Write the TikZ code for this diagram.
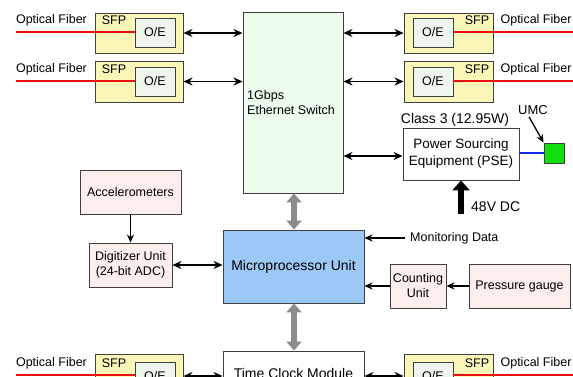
\documentclass[tikz,border=0pt]{standalone}
\usepackage{fontspec}
\setmainfont{Liberation Sans}
\usetikzlibrary{arrows.meta}
\definecolor{sfpfill}{HTML}{FAF6B8}
\definecolor{oefill}{HTML}{EEF5EC}
\definecolor{swfill}{HTML}{EEFCEE}
\definecolor{mpufill}{HTML}{9CC8F6}
\definecolor{pinkfill}{HTML}{FCEEEC}
\definecolor{boxline}{HTML}{404040}
\definecolor{fiber}{HTML}{EE1111}
\definecolor{greyarrow}{HTML}{8C8C8C}
\definecolor{umcgreen}{HTML}{11DD11}
\tikzset{
  box/.style={draw=boxline, line width=0.9pt, rectangle, inner sep=0pt, align=center},
  sfpbox/.style={box, fill=sfpfill},
  oebox/.style={box, fill=oefill, minimum width=40pt, minimum height=29pt, font=\fontsize{12.5}{14}\selectfont},
  txt/.style={inner sep=0pt, font=\fontsize{12.5}{14}\selectfont},
  bigtxt/.style={inner sep=0pt, font=\fontsize{14}{16}\selectfont},
  barrow/.style={line width=1.6pt, {Stealth[length=9pt,width=8pt]}-{Stealth[length=9pt,width=8pt]}},
  sarrow/.style={line width=1.3pt, -{Stealth[length=8pt,width=7pt]}},
  garrow/.style={line width=6pt, draw=greyarrow, {Triangle[length=9pt,width=15pt]}-{Triangle[length=9pt,width=15pt]}},
  fiberline/.style={draw=fiber, line width=2pt},
}
\begin{document}
\begin{tikzpicture}[x=1pt,y=-1pt]
\useasboundingbox (0,0) rectangle (573,377);
\begin{scope}
\clip (0,0) rectangle (573,377);
% Switch
\node[box, fill=swfill, minimum width=100pt, minimum height=181pt] (sw) at (293,102.5) {};
\node[txt, anchor=west, align=left] (swtxt) at (247,103) {1Gbps\\[1pt]Ethernet Switch};
% Left SFPs
\node[sfpbox, minimum width=88pt, minimum height=40pt] (sfpL1) at (139,33) {};
\node[oebox] (oeL1) at (155,32.5) {O/E};
\node[txt] (sfptL1) at (114,20.5) {SFP};
\node[txt] (ofL1) at (51.5,20.5) {Optical Fiber};
\coordinate (fL1) at (16,32.5);
\draw[fiberline] (fL1) -- (oeL1.west);
\node[sfpbox, minimum width=88pt, minimum height=41pt] (sfpL2) at (139,81.5) {};
\node[oebox] (oeL2) at (155,81.5) {O/E};
\node[txt] (sfptL2) at (114,69.5) {SFP};
\node[txt] (ofL2) at (51.5,69.5) {Optical Fiber};
\coordinate (fL2) at (16,81.5);
\draw[fiberline] (fL2) -- (oeL2.west);
% Right SFPs
\node[sfpbox, minimum width=89pt, minimum height=40pt] (sfpR1) at (448.5,33) {};
\node[oebox] (oeR1) at (433,32.5) {O/E};
\node[txt] (sfptR1) at (477,20.5) {SFP};
\node[txt] (ofR1) at (536,20.5) {Optical Fiber};
\coordinate (fR1) at (573,32.5);
\draw[fiberline] (oeR1.east) -- (fR1);
\node[sfpbox, minimum width=89pt, minimum height=41pt] (sfpR2) at (448.5,81.5) {};
\node[oebox] (oeR2) at (433,81.5) {O/E};
\node[txt] (sfptR2) at (477,69.5) {SFP};
\node[txt] (ofR2) at (536,69.5) {Optical Fiber};
\coordinate (fR2) at (573,81.5);
\draw[fiberline] (oeR2.east) -- (fR2);
% arrows SFP <-> switch
\draw[barrow] (sfpL1.east) -- (sw.west |- sfpL1.east);
\draw[barrow] (sfpL2.east) -- (sw.west |- sfpL2.east);
\draw[barrow] (sw.east |- sfpR1.west) -- (sfpR1.west);
\draw[barrow] (sw.east |- sfpR2.west) -- (sfpR2.west);
% PSE
\node[box, fill=white, minimum width=116pt, minimum height=52pt, font=\fontsize{13.5}{17}\selectfont] (pse) at (461,154) {Power Sourcing\\Equipment (PSE)};
\node[bigtxt] (cls) at (455,120) {Class 3 (12.95W)};
\node[box, fill=umcgreen, minimum width=20pt, minimum height=20pt] (umc) at (554,153) {};
\draw[draw={rgb,255:red,20;green,40;blue,230}, line width=1.2pt] (pse.east |- umc.west) -- (umc.west);
\node[txt, font=\fontsize{13}{15}\selectfont] (umct) at (533,110) {UMC};
\draw[sarrow] (umct.south) ++(-4,2) coordinate (umcs) -- (umc.north west);
\draw[barrow] (sw.east |- 0,156) coordinate (swp) -- (pse.west |- swp);
% 48V DC
\coordinate (dcs) at (461,214);
\draw[line width=6pt, -{Triangle[length=10pt,width=17pt]}] (dcs) -- (pse.south);
\node[bigtxt, anchor=west] (dct) at (471,207) {48V DC};
% MPU
\node[box, fill=mpufill, minimum width=141pt, minimum height=73pt, font=\fontsize{14}{16}\selectfont] (mpu) at (293.5,266.5) {Microprocessor Unit};
\draw[garrow] (sw.south -| 294,0) -- (mpu.north -| 294,0);
% Accelerometers / digitizer
\node[box, fill=pinkfill, minimum width=101pt, minimum height=44pt, font=\fontsize{12.5}{14}\selectfont] (acc) at (130.5,192) {Accelerometers};
\node[box, fill=pinkfill, minimum width=83pt, minimum height=44pt, font=\fontsize{12.5}{15}\selectfont] (dig) at (130.5,265) {Digitizer Unit\\(24-bit ADC)};
\draw[sarrow] (acc.south) -- (dig.north);
\draw[barrow] (dig.east) -- (mpu.west |- dig.east);
% Monitoring data
\node[txt, anchor=west] (mon) at (410,238) {Monitoring Data};
\draw[sarrow] (mon.west) ++(-5,0) coordinate (mons) -- (mpu.east |- mons);
% Counting / pressure
\node[box, fill=pinkfill, minimum width=56pt, minimum height=44pt, font=\fontsize{12.5}{15}\selectfont] (cnt) at (418,286) {Counting\\Unit};
\node[box, fill=pinkfill, minimum width=101pt, minimum height=44pt, font=\fontsize{12.5}{14}\selectfont] (prs) at (519.5,286) {Pressure gauge};
\draw[sarrow] (prs.west) -- (cnt.east);
\draw[sarrow] (cnt.west) -- (mpu.east |- cnt.west);
% Time clock
\node[box, fill=white, minimum width=141pt, minimum height=60pt] (tcm) at (293.5,381) {};
\node[bigtxt] (tcmt) at (293.5,373) {Time Clock Module};
\draw[garrow] (mpu.south -| 294,0) -- (tcm.north -| 294,0);
% Bottom SFPs
\node[sfpbox, minimum width=88pt, minimum height=40pt] (sfpL3) at (139,374) {};
\node[oebox] (oeL3) at (155,376.5) {O/E};
\node[txt] (sfptL3) at (114,363) {SFP};
\node[txt] (ofL3) at (51.5,363) {Optical Fiber};
\coordinate (fL3) at (16,375);
\draw[fiberline] (fL3) -- (oeL3.west |- fL3);
\node[sfpbox, minimum width=89pt, minimum height=40pt] (sfpR3) at (448.5,374) {};
\node[oebox] (oeR3) at (433,376.5) {O/E};
\node[txt] (sfptR3) at (477,363) {SFP};
\node[txt] (ofR3) at (536,363) {Optical Fiber};
\coordinate (fR3) at (573,375);
\draw[fiberline] (oeR3.east |- fR3) -- (fR3);
\draw[barrow] (sfpL3.east |- 0,376) coordinate (bl) -- (tcm.west |- bl);
\draw[barrow] (tcm.east |- 0,376) coordinate (br) -- (sfpR3.west |- br);
\end{scope}
\end{tikzpicture}
\end{document}
